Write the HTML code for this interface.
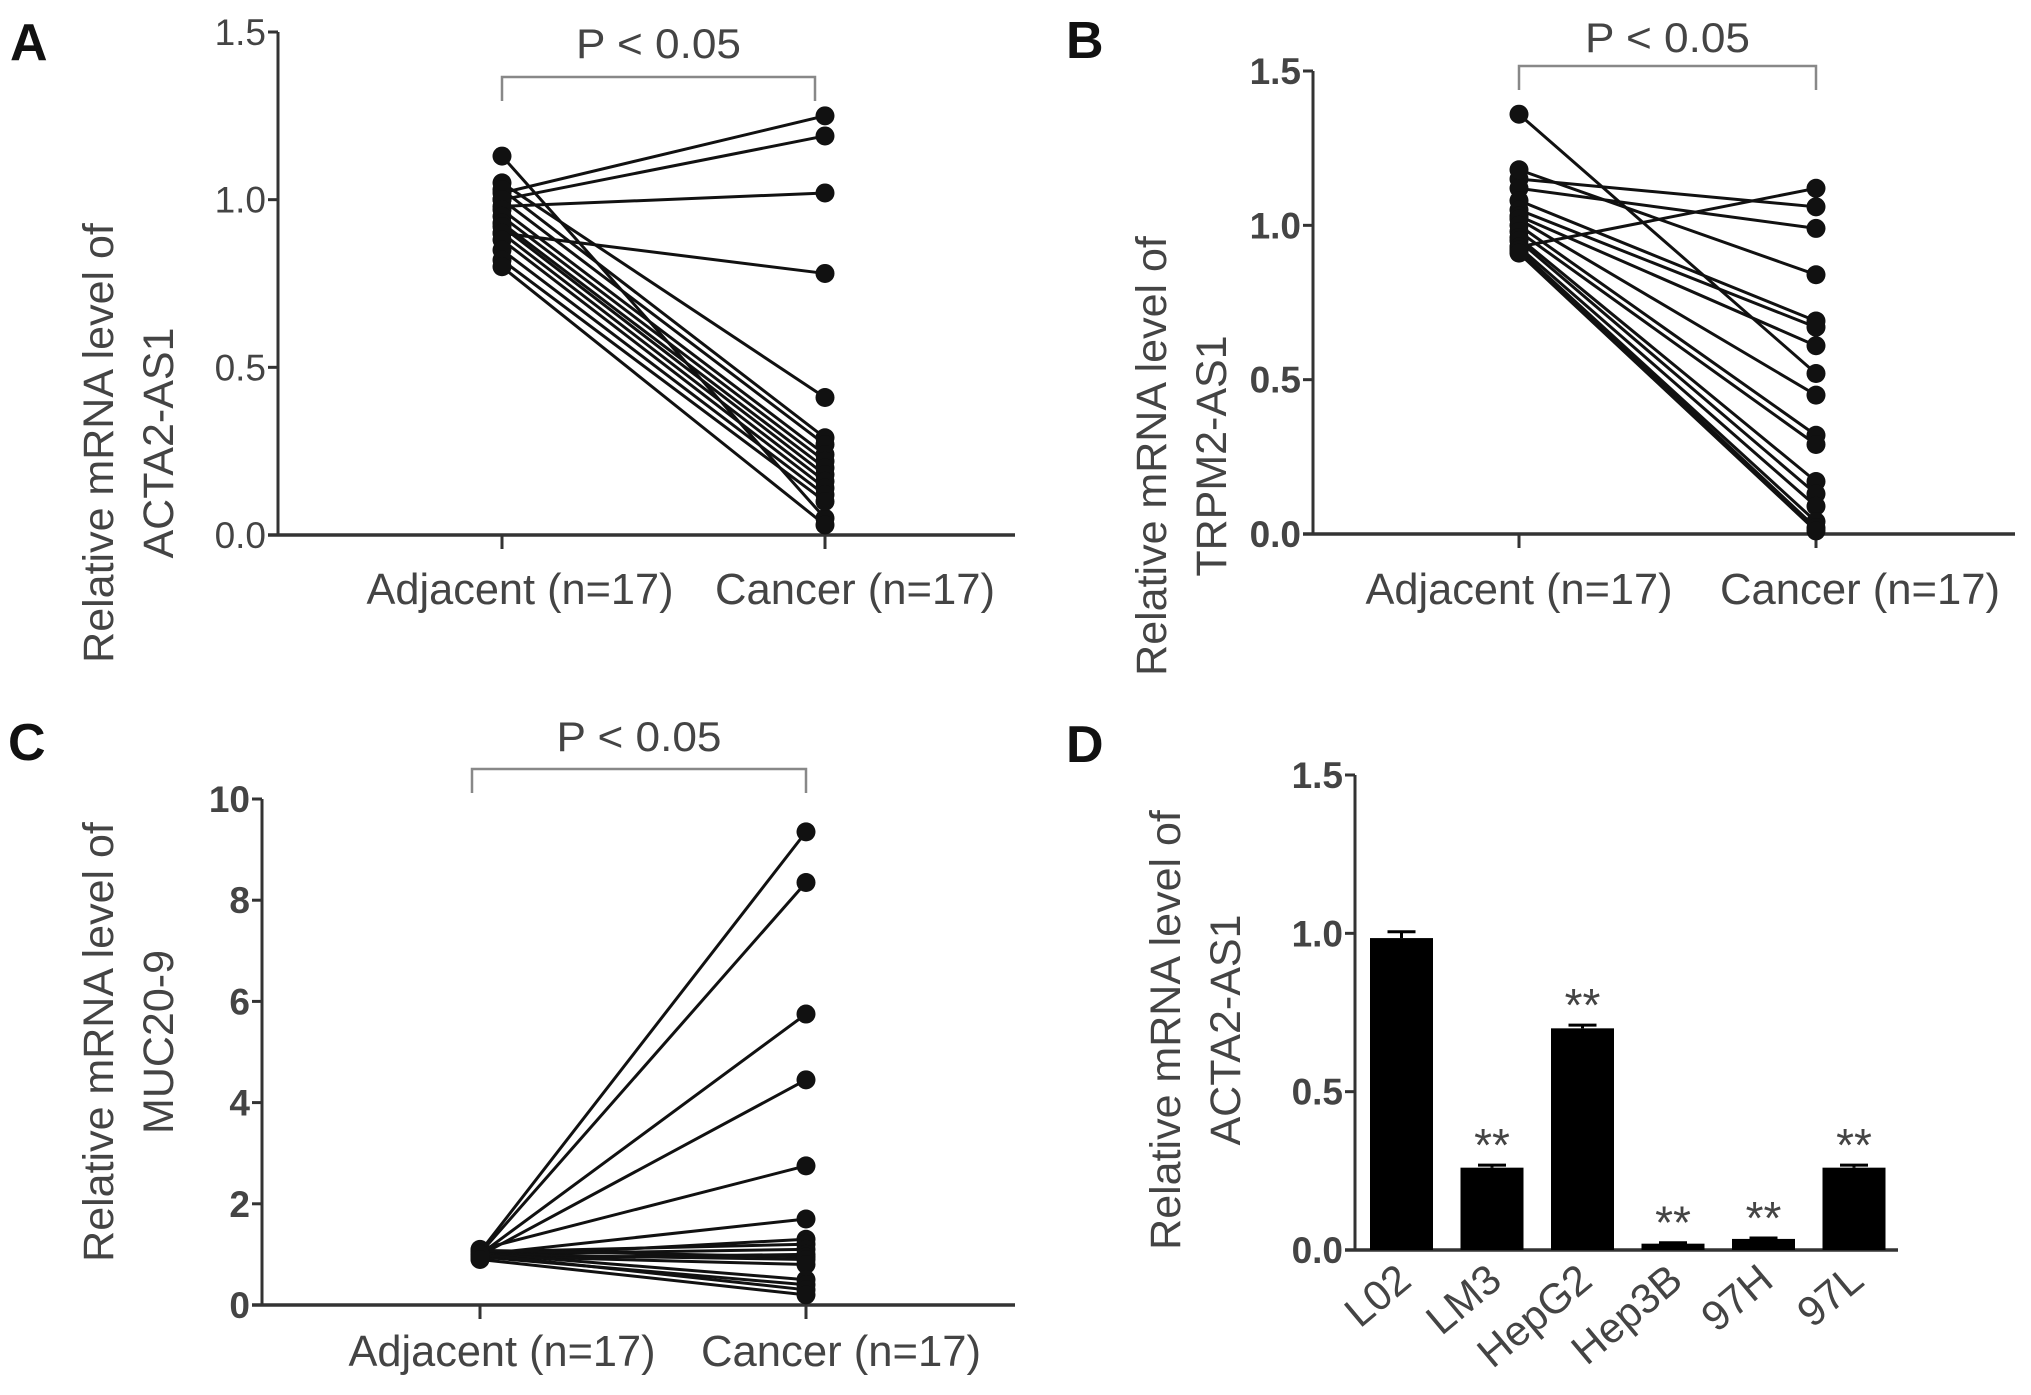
<!DOCTYPE html>
<html><head><meta charset="utf-8"><style>
html,body{margin:0;padding:0;background:#fff;}
svg{display:block;}
.t{font-family:"Liberation Sans",Arial,sans-serif;fill:#444;}
.n{font-family:"Liberation Sans Narrow","Liberation Sans",Arial,sans-serif;fill:#444;}
.pl{font-family:"Liberation Sans",Arial,sans-serif;fill:#111;font-weight:bold;font-size:52px;}
</style></head><body>
<svg id="fig" width="2031" height="1395" viewBox="0 0 2031 1395" xmlns="http://www.w3.org/2000/svg"></svg>
<script>
// Panel A data
const aAdjacent=[1.02,1.0,0.98,0.9,1.13,1.05,1.03,1.0,0.97,0.95,0.93,0.92,0.9,0.88,0.85,0.82,0.8];
const aCancer=[1.25,1.19,1.02,0.78,0.05,0.41,0.29,0.27,0.24,0.22,0.2,0.18,0.16,0.14,0.12,0.1,0.03];
const aTicks=["0.0","0.5","1.0","1.5"];
// Panel B data
const bAdjacent=[1.36,0.93,1.15,1.12,1.18,1.08,1.05,1.03,1.02,1.0,0.98,0.96,0.95,0.93,0.92,0.92,0.91];
const bCancer=[0.52,1.12,1.06,0.99,0.84,0.69,0.67,0.61,0.45,0.32,0.29,0.17,0.13,0.09,0.04,0.02,0.01];
const bTicks=["0.0","0.5","1.0","1.5"];
// Panel C data
const cAdjacent=[1.05,1.02,1.0,0.98,1.1,1.0,0.95,1.05,1.0,0.92,1.08,1.0,0.97,1.02,0.95,1.0,0.9];
const cCancer=[9.35,8.35,5.75,4.45,2.75,1.7,1.3,1.2,1.1,1.0,0.95,0.9,0.8,0.5,0.4,0.3,0.2];
const cTicks=["0","2","4","6","8","10"];
// Panel D data
const dCategories=["L02","LM3","HepG2","Hep3B","97H","97L"];
const dValues=[0.985,0.26,0.70,0.02,0.035,0.26];
const dErrors=[0.02,0.008,0.01,0.003,0.003,0.008];
const dStars=["","**","**","**","**","**"];
const dTicks=["0.0","0.5","1.0","1.5"];
const groupLabels=["Adjacent (n=17)","Cancer (n=17)"];

const NS="http://www.w3.org/2000/svg";
const svg=document.getElementById('fig');
function mk(tag,attrs,parent,text){const e=document.createElementNS(NS,tag);for(const k in attrs)e.setAttribute(k,attrs[k]);if(text!==undefined)e.textContent=text;(parent||svg).appendChild(e);return e;}

function panel(cfg){
  const g=mk('g',{});
  
  
  const y=v=>cfg.y0+(cfg.y1-cfg.y0)*(v-cfg.min)/(cfg.max-cfg.min);
  const L=mk('text',{x:cfg.lx,y:cfg.ly,class:'pl'},g,cfg.letter);
  
  
  const tt=mk('text',{class:'t','font-size':43,'text-anchor':'middle',transform:`translate(${cfg.tx},${cfg.ty}) rotate(-90)`},g);
  
  
  mk('tspan',{x:0,y:0},tt,'Relative mRNA level of');
  mk('tspan',{x:0,y:cfg.tgap},tt,cfg.gene);
  const ya=mk('line',{x1:cfg.ax,y1:y(cfg.max),x2:cfg.ax,y2:cfg.y0,stroke:'#333','stroke-width':3},g);
  
  
  const xa=mk('line',{x1:cfg.ax-10,y1:cfg.y0,x2:cfg.axEnd,y2:cfg.y0,stroke:'#333','stroke-width':3.5},g);
  
  
  cfg.ticks.forEach(t=>{
    const v=parseFloat(t),yy=y(v);
    mk('line',{x1:cfg.ax-10,y1:yy,x2:cfg.ax,y2:yy,stroke:'#333','stroke-width':3},g);
    const tl=mk('text',{x:cfg.ax-12,y:yy+13,class:'n','font-size':37,'font-weight':cfg.boldTicks?'bold':'normal','text-anchor':'end'},g,t);
    
    
  });
  return {g,y};
}

function paired(cfg,adj,can){
  const {g,y}=panel(cfg);
  [cfg.xA,cfg.xC].forEach((x,i)=>{
    mk('line',{x1:x,y1:cfg.y0,x2:x,y2:cfg.y0+14,stroke:'#333','stroke-width':3},g);
    const xl=mk('text',{x:x+cfg.lblOff[i],y:cfg.lblY,class:'n','font-size':44,'text-anchor':'middle',textLength:i?280:307,lengthAdjust:'spacingAndGlyphs'},g,groupLabels[i]);
    
    
  });
  const br=mk('path',{d:`M${cfg.bx1},${cfg.by+24} V${cfg.by} H${cfg.bx2} V${cfg.by+24}`,fill:'none',stroke:'#888','stroke-width':2.5},g);
  
  
  const pt=mk('text',{x:(cfg.bx1+cfg.bx2)/2,y:cfg.py,class:'n','font-size':42,'text-anchor':'middle',textLength:165,lengthAdjust:'spacingAndGlyphs'},g,'P < 0.05');
  
  
  adj.forEach((v,i)=>{
    const ln=mk('line',{x1:cfg.xA,y1:y(v),x2:cfg.xC,y2:y(can[i]),stroke:'#111','stroke-width':3},g);
    
    
  });
  adj.forEach((v,i)=>{
    const p1=mk('circle',{cx:cfg.xA,cy:y(v),r:9.5,fill:'#111'},g);
    
    
    const p2=mk('circle',{cx:cfg.xC,cy:y(can[i]),r:9.5,fill:'#111'},g);
    
    
  });
}

paired({name:'panel-a',letter:'A',lx:10,ly:60,gene:'ACTA2-AS1',tx:113,ty:443,tgap:60,ax:278,axEnd:1015,
  y0:535,y1:32,min:0,max:1.5,ticks:aTicks,boldTicks:false,xA:502,xC:825,lblY:604,lblOff:[18,30],
  bx1:502,bx2:815,by:77,py:58},aAdjacent,aCancer);
paired({name:'panel-b',letter:'B',lx:1066,ly:58,gene:'TRPM2-AS1',tx:1166,ty:456,tgap:60,ax:1313,axEnd:2015,
  y0:534,y1:71,min:0,max:1.5,ticks:bTicks,boldTicks:true,xA:1519,xC:1816,lblY:604,lblOff:[0,44],
  bx1:1519,bx2:1816,by:66,py:52},bAdjacent,bCancer);
paired({name:'panel-c',letter:'C',lx:8,ly:760,gene:'MUC20-9',tx:113,ty:1042,tgap:60,ax:262,axEnd:1015,
  y0:1305,y1:799,min:0,max:10,ticks:cTicks,boldTicks:true,xA:480,xC:806,lblY:1366,lblOff:[22,35],
  bx1:472,bx2:806,by:769,py:751},cAdjacent,cCancer);

(function(){
  const cfg={name:'panel-d',letter:'D',lx:1066,ly:762,gene:'ACTA2-AS1',tx:1180,ty:1030,tgap:60,ax:1355,axEnd:1898,
    y0:1250,y1:775,min:0,max:1.5,ticks:dTicks,boldTicks:true};
  const {g,y}=panel(cfg);
  const x0=1370,step=90.5,bw=63;
  dCategories.forEach((c,i)=>{
    const bx=x0+i*step,top=y(dValues[i]);
    const r=mk('rect',{x:bx,y:top,width:bw,height:cfg.y0-top,fill:'#000'},g);
    
    
    const ey=y(dValues[i]+dErrors[i]);
    mk('line',{x1:bx+bw/2,y1:ey,x2:bx+bw/2,y2:top,stroke:'#000','stroke-width':3},g);
    mk('line',{x1:bx+bw/2-14,y1:ey,x2:bx+bw/2+14,y2:ey,stroke:'#000','stroke-width':3},g);
    if(dStars[i]){
      const s=mk('text',{x:bx+bw/2,y:ey-4,class:'t','font-size':46,'text-anchor':'middle',fill:'#222'},g,dStars[i]);
      
      
    }
    const cx=bx+bw/2+12;
    const xl=mk('text',{x:0,y:0,class:'n','font-size':42,'text-anchor':'end',transform:`translate(${cx},${cfg.y0+34}) rotate(-40)`},g,c);
    
    
  });
})();
</script>
</body></html>
